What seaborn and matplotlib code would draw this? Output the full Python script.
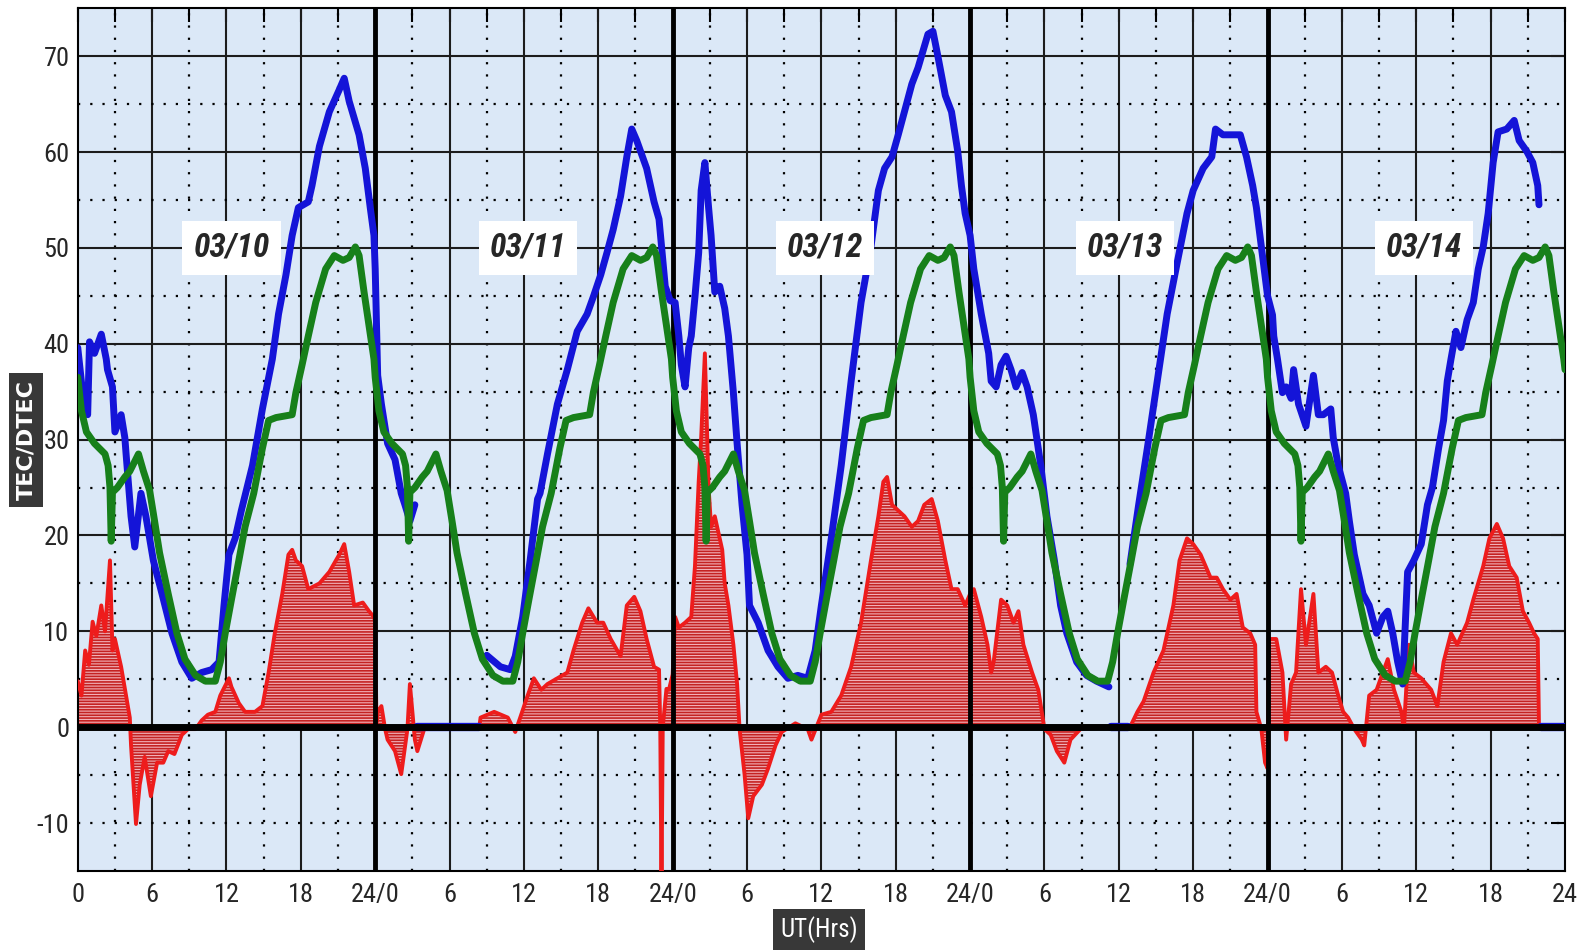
import os
import numpy as np
import pandas as pd
import matplotlib
matplotlib.use("Agg")
import matplotlib.pyplot as plt
import matplotlib.font_manager as fm
import seaborn as sns

# daily reference curve (same every day), hours within the day
green_hours = [0, 0.3, 0.7, 1.35, 2.2, 2.45, 2.6, 2.7, 2.8, 3.2, 3.8, 4.2, 4.9, 5.3, 5.8,
               6.2, 6.6, 7.3, 8.0, 8.65, 9.5, 10.3, 11.1, 11.5, 11.9, 12.4, 13.0, 13.5,
               14.2, 14.9, 15.4, 16.0, 17.3, 17.6, 18.1, 18.6, 19.2, 20.0, 20.7, 21.4,
               21.9, 22.4, 22.7, 23.1, 23.5, 23.9]
green_vals = [36.5, 33, 30.8, 29.6, 28.5, 27.3, 25, 19.4, 24.5, 25, 26.1, 26.7, 28.5, 26.7,
              24.7, 21.5, 18.2, 13.9, 9.8, 7.1, 5.4, 4.8, 4.8, 6.8, 9.8, 13.3, 17.4, 20.9,
              24.4, 29.1, 32, 32.3, 32.6, 34.9, 37.8, 40.8, 44.3, 47.8, 49.2, 48.7, 49,
              50.1, 49.2, 45.4, 41.9, 38.4]
green_end = 37.3

# TEC (blue), NaN marks a gap
blue_hours = [0, 0.3, 0.5, 0.8, 0.95, 1.35, 1.9, 2.3, 2.4, 2.8, 3.0, 3.5, 3.8, 3.9, 4.3, 4.6,
              5.1, 5.5, 6.1, 6.8, 7.6, 8.4, 9.2, 10.0, 10.8, 11.4, 11.8, 12.2, 12.7, 13.2,
              14.1, 14.9, 15.7, 16.2, 16.8, 17.3, 17.8, 18.6, 18.9, 19.5, 20.3, 21.1, 21.5,
              21.9, 22.7, 23.2, 23.6, 23.9, 24.0, 24.2, 24.5, 25.0, 25.6, 26.1, 26.4, 26.8,
              27.2, np.nan,
              33.0, 34.1, 34.9, 35.3, 35.9, 36.5, 37.1, 37.3, 37.9, 38.7, 39.5, 40.3, 41.1,
              41.6, 42.2, 42.7, 43.2, 43.8, 44.3, 44.7, 45.1, 45.9, 46.5, 46.9, 47.4, 47.8,
              48.2, 48.5, 48.7, 49.0, 49.3, 49.5, 49.8, 50.1, 50.3, 50.6, 50.9, 51.1, 51.4,
              51.8, 52.2, 52.5, 52.9, 53.2, 53.6, 54.0, 54.2, 54.9, 55.7, 56.5, 57.3, 58.1,
              58.9, 59.5, 60.0, 60.8, 61.6, 62.4, 63.2, 64.0, 64.6, 65.1, 65.7, 66.2, 66.7,
              67.3, 67.8, 68.6, 69.0, 69.4, 70.0, 70.5, 71.0, 71.3, 71.6, 72.0, 72.3, 72.9,
              73.5, 73.7, 74.1, 74.5, 74.9, 75.3, 75.7, 76.2, 76.6, 77.1, 77.7, 78.2, 78.8,
              79.3, 79.8, 80.6, 81.4, 82.2, 83.2, np.nan,
              84.9, 85.6, 86.3, 87.1, 87.9, 88.7, 89.5, 90.0, 90.8, 91.5, 91.8, 92.4, 93.2,
              93.8, 94.3, 94.8, 95.1, 96.0, 96.4, 96.5, 96.8, 97.2, 97.5, 97.9, 98.1, 98.5,
              99.1, 99.3, 99.7, 100.1, 100.5, 101.1, 101.3, 101.7, 102.3, 102.6, 103.0,
              103.7, 104.2, 104.8, 105.3, 105.7, 106.1, 106.5, 106.9, 107.3, 107.8, 108.4,
              108.9, 109.3, 109.8, 110.2, 110.5, 110.8, 111.2, 111.6, 112.1, 112.6, 113.0,
              113.4, 113.8, 114.2, 114.6, 115.3, 115.9, 116.3, 116.9, 117.4, 117.8, 117.9]
blue_vals = [39.6, 36, 33.7, 32.6, 40.2, 39, 41, 38.4, 37.3, 35.5, 30.8, 32.6, 30.2, 28.5, 22,
             18.8, 24.4, 22, 17.4, 13.9, 9.8, 6.8, 5.1, 5.7, 6.0, 6.8, 12.7, 18, 19.7, 22.6,
             27.3, 33.2, 38.4, 43.1, 47.2, 51.3, 54.2, 54.8, 56.5, 60.6, 64.2, 66.5, 67.7,
             65.3, 61.8, 58.3, 54.2, 51.3, 47.8, 36.7, 33.7, 29.6, 27.9, 24.4, 23.2, 21.5,
             23.2, np.nan,
             7.5, 6.3, 6.0, 7.4, 11.5, 17.4, 23.8, 24.4, 28.5, 33.7, 37.3, 41.3, 43.1,
             44.9, 47.2, 49.5, 51.9, 55.4, 59.5, 62.4, 61.2, 58.3, 54.8, 53.0, 46, 44.5,
             44.3, 40.8, 37.8, 35.5, 39.6, 40.8, 44.9, 49.5, 56, 58.9, 54.2, 51.3, 45.4,
             46, 43.7, 40.8, 34.9, 29.6, 23.2, 18, 12.7, 10.9, 8.0, 6.3, 5.1, 5.4,
             5.1, 8.0, 12.7, 19.7, 27.3, 36.1, 44.3, 50.1, 56, 58.3, 59.5, 61.8, 64.2,
             67.1, 68.8, 72.3, 72.6, 70, 65.9, 64.2, 60.1, 56.5, 53.6, 51.3, 47.8, 43.1,
             39, 36.1, 35.5, 37.8, 38.7, 37.3, 35.5, 37, 35.5, 32.6, 27.3, 22, 17.4,
             12.7, 9.8, 6.8, 5.4, 4.8, 4.2, np.nan,
             17, 23.2, 29.1, 36.1, 43.1, 48.4, 53.6, 56, 58.3, 59.5, 62.4, 61.8, 61.8,
             61.8, 59.5, 56.5, 54.2, 45, 43, 40.8, 38.4, 34.9, 35.5, 34.3, 37.3, 33.7,
             31.4, 33.2, 36.7, 32.6, 32.6, 33.2, 30.2, 27.3, 24.4, 21.5, 18,
             13.9, 12.7, 9.8, 11.5, 12.1, 9.8, 6.8, 4.5, 16.2, 17.4, 19.1,
             23.2, 25, 29.1, 32, 36.1, 38.4, 41.3, 39.6, 42.5, 44.3, 47.8,
             50.1, 53.6, 58.9, 62.1, 62.4, 63.3, 61.2, 60.1, 58.9, 56.5, 54.5]
# hours where TEC was missing and logged as 0
blue_zero_spans = [(27.4, 32.4), (83.4, 84.7), (118.1, 120.0)]

# DTEC (red)
red_hours = [0, 0.3, 0.6, 0.9, 1.2, 1.5, 1.9, 2.2, 2.6, 2.8, 3.0, 3.5, 3.9, 4.2, 4.3, 4.5, 4.7,
             5.0, 5.4, 5.9, 6.4, 6.9, 7.3, 7.8, 8.4, 8.9, 9.5, 10.0, 10.5, 11.1, 11.5, 12.2,
             12.4, 13.0, 13.5, 14.3, 14.9, 15.4, 15.9, 16.5, 17.0, 17.3, 17.6, 18.1, 18.6,
             19.5, 20.3, 21.1, 21.5, 21.9, 22.3, 23.0, 23.5, 23.9, 24.0, 24.1, 24.2, 24.5,
             24.8, 25.0, 25.6, 26.1, 26.6, 26.8, 27.2, 27.4, 28.0, 32.4, 32.5, 33.6, 34.7,
             35.3, 35.7, 36.3, 36.8, 37.4, 37.9, 38.7, 39.5, 40.0, 40.7, 41.2, 41.9, 42.4,
             43.0, 43.8, 44.3, 44.9, 45.4, 45.9, 46.5, 46.9, 47.0, 47.1, 47.2, 47.5, 47.7,
             48.0, 48.2, 48.5, 49.0, 49.5, 49.8, 50.1, 50.3, 50.6, 50.9, 51.1, 51.4, 52.0,
             52.2, 52.5, 52.9, 53.2, 53.4, 53.8, 54.1, 54.5, 55.2, 55.7, 56.3, 56.8, 57.9,
             58.9, 59.2, 60.0, 60.8, 61.6, 62.4, 63.2, 64.0, 64.6, 65.0, 65.3, 65.7, 66.2,
             66.7, 67.3, 67.8, 68.3, 68.9, 69.4, 70.0, 70.5, 71.0, 71.6, 72.0, 72.3, 72.9,
             73.4, 73.7, 73.9, 74.5, 75.0, 75.5, 75.9, 76.3, 77.0, 77.5, 78.0, 78.5, 79.0,
             79.6, 80.1, 80.9, 81.7, 84.9, 85.5, 86.0, 86.8, 87.6, 88.4, 88.9, 89.5, 90.0,
             90.6, 91.4, 91.9, 92.4, 93.0, 93.5, 94.0, 94.6, 95.0, 95.1, 95.5, 95.8, 96.0,
             96.1, 96.7, 97.2, 97.5, 97.9, 98.3, 98.7, 99.1, 99.7, 100.1, 100.7, 101.2,
             101.7, 102.1, 102.5, 103.0, 103.6, 103.8, 104.2, 104.8, 105.3, 105.7, 106.2,
             106.8, 107.0, 107.4, 107.8, 108.4, 109.2, 109.7, 110.2, 110.8, 111.3, 112.1,
             112.6, 113.4, 113.9, 114.5, 115.0, 115.5, 116.1, 116.6, 117.1, 117.5, 117.8,
             117.9, 120.0]
red_vals = [4.8, 3.3, 8, 6.5, 11, 9.5, 12.7, 10, 17.4, 8, 9.2, 6.3, 3.3, 1, -1.9, -6, -10.1,
            -6, -3.1, -7.2, -3.7, -3.7, -2.5, -2.8, -0.8, -0.2, -0.2, 0.7, 1.3, 1.6, 3.3, 5.1,
            4.2, 2.5, 1.6, 1.6, 2.2, 5.7, 9.8, 13.9, 18, 18.5, 17.4, 16.8, 14.4,
            15, 16.2, 18, 19.1, 16.2, 12.7, 13, 12.1, 11.5, 11, 0.5, 1.6, 2.2,
            -0.2, -1.3, -2.5, -4.9, -0.2, 4.5, -1.3, -2.5, 0, 0, 1, 1.6, 1,
            -0.5, 1, 3.3, 5.1, 3.9, 4.5, 5.1, 5.7, 8, 10.9, 12.4, 10.9, 10.9,
            9.2, 7.4, 12.7, 13.6, 12.1, 9.2, 6.3, 6, 0, -17, 0, 4, 3.9,
            5.5, 11.5, 10.4, 10.9, 11.5, 16.8, 25.6, 30.2, 39, 25, 20.9, 22, 18.5,
            15, 12.7, 8.6, 4.5, -0.2, -4.9, -9.5, -7.2, -6, -4.3, -1.9, -0.5, 0.4,
            -0.2, -1.3, 1.3, 1.6, 3.3, 6.3, 10.9, 17.4, 22, 25.6, 26.1, 23.2, 22.6,
            22, 20.9, 21.5, 23.2, 23.8, 21.5, 17.4, 14.4, 14.4, 12.7, 13.9, 14.4, 11.5,
            8.6, 5.7, 6.8, 13.3, 12.7, 10.9, 12.1, 8.6, 5.7, 3.9, -0.2, -0.8, -2.5,
            -3.7, -1.3, -0.2, 0, 0, 1.6, 2.7, 5.7, 8, 12.7, 17.4, 19.7, 19.1,
            18, 15.6, 15.6, 14.4, 13.3, 13.9, 10.4, 9.8, 8.6, 1.6, -0.2, -3.7, -4.3,
            9.2, 9.2, 5.7, -1.3, 4.5, 5.7, 14.4, 8.6, 13.9, 5.7, 6.3, 5.7,
            3.3, 1.6, 1, -0.2, -1.3, -1.9, 3.3, 3.9, 5.7, 7.1, 3.9,
            1.6, -0.2, 8.6, 5.7, 5.1, 3.9, 2.2, 6.8, 9.8, 8.6, 10.9,
            13.3, 16.8, 19.7, 21.2, 19.7, 16.8, 15.6, 12.1, 10.9, 9.8, 9.2,
            0, 0]

day_labels = ["03/10", "03/11", "03/12", "03/13", "03/14"]
label_hours = [12.4, 36.3, 60.3, 84.5, 108.6]
x_tick_labels = ["0", "6", "12", "18", "24/0", "6", "12", "18", "24/0", "6", "12", "18",
                 "24/0", "6", "12", "18", "24/0", "6", "12", "18", "24"]
y_ticks = [-10, 0, 10, 20, 30, 40, 50, 60, 70]


# look for a narrow / condensed face, the original uses an Arial-Narrow look
def narrow_font(bold=False, italic=False):
    best, best_score = None, -1
    for f in fm.fontManager.ttflist:
        nm = (f.name + " " + os.path.basename(f.fname)).lower()
        cond = ("narrow" in nm or "condensed" in nm or "cond" in nm
                or str(f.stretch) in ("condensed", "semi-condensed", "extra-condensed"))
        if not cond:
            continue
        score = 1
        if "liberation" in nm or "arimo" in nm:
            score += 4
        elif "roboto" in nm:
            score += 3
        elif "dejavu" in nm:
            score += 2
        w = f.weight if isinstance(f.weight, int) else (700 if "bold" in str(f.weight) else 400)
        is_bold = w >= 600 or "bold" in nm
        is_it = f.style in ("italic", "oblique") or "italic" in nm or "oblique" in nm
        if is_bold == bold:
            score += 10
        if is_it == italic:
            score += 10
        if "light" in nm or "thin" in nm or "black" in nm or "medium" in nm:
            score -= 5
        if score > best_score:
            best, best_score = f, score
    if best is None:
        return fm.FontProperties(family="DejaVu Sans", weight="bold" if bold else "normal",
                                 style="italic" if italic else "normal", stretch="condensed")
    return fm.FontProperties(fname=best.fname)


# tables for plotting
g_h, g_v = [], []
for d in range(5):
    g_h += [d * 24 + h for h in green_hours]
    g_v += green_vals
g_h.append(120.0)
g_v.append(green_end)
green = pd.DataFrame({"hour": g_h, "tec": g_v})
blue = pd.DataFrame({"hour": blue_hours, "tec": blue_vals})
red = pd.DataFrame({"hour": red_hours, "dtec": red_vals})

sns.set_style("white")
plt.rcParams["hatch.linewidth"] = 1.2

fig = plt.figure(figsize=(15.77, 9.5), dpi=100)
ax = fig.add_axes([0.0493, 0.0832, 0.9431, 0.9081])
ax.set_facecolor("#dbe8f7")

# grid, drawn by hand: solid every 6 h / 10 units, dotted in between
dots = (0, (1, 4.5))
for h in range(0, 121, 3):
    if h % 24 == 0:
        continue
    if h % 6 == 0:
        ax.axvline(h, color="#1c1c1c", lw=1.5, zorder=1)
    else:
        ax.axvline(h, color="black", lw=1.6, ls=dots, zorder=1)
for v in range(-10, 75, 5):
    if v > 0 and v % 10 == 0:
        ax.axhline(v, color="#1c1c1c", lw=1.5, zorder=1)
    elif v != 0:
        ax.axhline(v, color="black", lw=1.6, ls=dots, zorder=1)

# DTEC fill + trace
ax.fill_between(red["hour"], red["dtec"], 0, facecolor="#f2b0b8", edgecolor="#c42222",
                hatch="------", linewidth=0, zorder=2)
sns.lineplot(data=red, x="hour", y="dtec", ax=ax, color="#ee1c1c", lw=2.8,
             estimator=None, sort=False, zorder=3)
for a, b in blue_zero_spans:
    ax.plot([a, b], [0, 0], color="#1414d8", lw=6, zorder=3.1)
ax.axhline(0, color="black", lw=5, zorder=3.2)

for d in (24, 48, 72, 96):
    ax.axvline(d, color="black", lw=3.5, zorder=3.5)

# TEC traces, broken where data are missing
seg = blue["hour"].isna().cumsum()
for _, part in blue.dropna().groupby(seg[blue["hour"].notna()]):
    sns.lineplot(data=part, x="hour", y="tec", ax=ax, color="#1414d8", lw=5,
                 estimator=None, sort=False, zorder=4, solid_capstyle="round")
sns.lineplot(data=green, x="hour", y="tec", ax=ax, color="#17801a", lw=5,
             estimator=None, sort=False, zorder=5, solid_capstyle="round")

fp_day = narrow_font(bold=True, italic=True)
fp_day.set_size(24)
for lab, h in zip(day_labels, label_hours):
    ax.text(h, 50, lab, ha="center", va="center", fontproperties=fp_day, zorder=6,
            bbox=dict(facecolor="white", edgecolor="none", pad=8))

ax.set_xlim(0, 120)
ax.set_ylim(-15, 75)
ax.set_xticks(range(0, 121, 6))
ax.set_xticks(range(3, 121, 6), minor=True)
ax.set_xticklabels(x_tick_labels)
ax.set_yticks(y_ticks)
ax.set_yticklabels([str(v) for v in y_ticks])
ax.tick_params(axis="both", which="both", direction="in", top=True, right=True,
               length=10, width=1.5, color="black")
ax.tick_params(axis="x", pad=9)
ax.tick_params(axis="y", pad=6)
fp_tick = narrow_font()
fp_tick.set_size(19)
for lab in ax.get_xticklabels() + ax.get_yticklabels():
    lab.set_fontproperties(fp_tick)
for s in ax.spines.values():
    s.set_color("black")
    s.set_linewidth(1.5)
ax.set_xlabel("")
ax.set_ylabel("")

fig.text(0.0165, 0.537, "TEC/DTEC", rotation=90, ha="center", va="center", color="white",
         fontsize=16, fontweight="bold", family=["DejaVu Sans"],
         bbox=dict(facecolor="#383838", edgecolor="none", pad=5))
fp_x = narrow_font()
fp_x.set_size(18)
fig.text(0.5195, 0.022, "UT(Hrs)", ha="center", va="center", color="white",
         fontproperties=fp_x,
         bbox=dict(facecolor="#383838", edgecolor="none", pad=5))

fig.savefig("out.png", dpi=100)
